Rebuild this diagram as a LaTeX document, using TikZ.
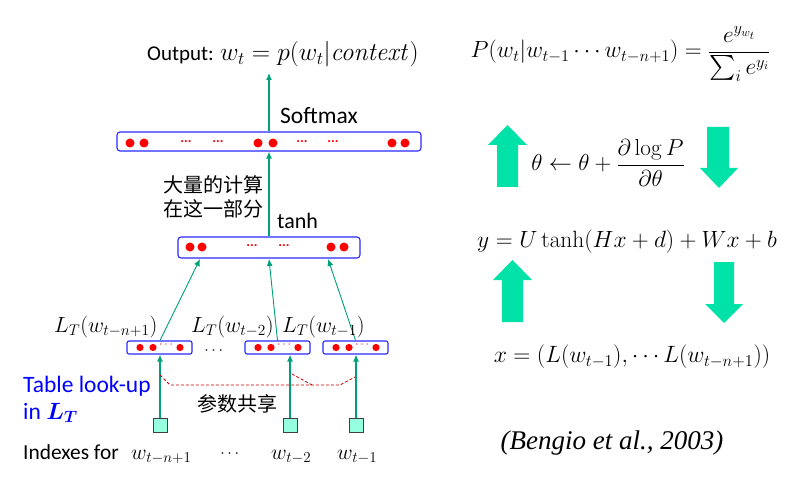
\RequirePackage{fix-cm}
\documentclass[tikz,border=0pt]{standalone}
\usepackage{amsmath}
\usepackage{bm}
\usepackage[no-math]{fontspec}
\setmainfont{Carlito}
\newfontfamily\cjk{Noto Sans CJK SC}
\newfontfamily\timesf{Liberation Serif}
\usetikzlibrary{arrows.meta}
\definecolor{boxblue}{RGB}{40,40,255}
\definecolor{teal1}{RGB}{0,160,122}
\definecolor{mint}{RGB}{0,226,168}
\definecolor{sqfill}{RGB}{150,255,224}
\definecolor{dred}{RGB}{200,0,0}
\tikzset{
  layer/.style={draw=boxblue, line width=1.1pt, rounded corners=3pt, inner sep=0pt},
  ebox/.style={draw=boxblue, line width=1.1pt, rounded corners=2pt, minimum width=65pt, minimum height=13pt, inner sep=0pt},
  idx/.style={draw=black!75, fill=sqfill, line width=0.8pt, minimum width=14pt, minimum height=14pt, inner sep=0pt},
  conn/.style={draw=teal1, line width=1.2pt, -{Latex[length=7pt,width=6pt]}},
  thin/.style={draw=teal1, line width=0.9pt, -{Latex[length=7pt,width=6pt]}},
  bigarrow/.style={fill=mint, draw=none},
  dot/.style={fill=red},
  rdots/.style={text=red, font=\fontsize{14}{14}\selectfont\bfseries, inner sep=0pt},
  lbl/.style={inner sep=0pt, anchor=base west},
}
\begin{document}
\begin{tikzpicture}[x=1pt,y=-1pt]
\useasboundingbox (0,0) rectangle (800,481);
\fill[white] (0,0) rectangle (800,481);

% ---- top output
\node[lbl] (out) at (147,61) {\fontsize{21}{24}\selectfont Output: \fontsize{25.5}{26}\selectfont$w_t = p(w_t|\mathit{context})$};
\coordinate (outbot) at (269,73);

% top layer
\node[layer, minimum width=304pt, minimum height=19pt] (top) at (269,141.5) {};
\foreach \x in {130,144,258,273,392,405} \fill[dot] (\x,143) circle (4.5);
\foreach \x in {186,218,302,333} \node[rdots] at (\x,142) {...};
\node[lbl] (soft) at (280,124) {\fontsize{23.5}{24}\selectfont Softmax};

% middle layer
\node[layer, minimum width=182pt, minimum height=21pt] (mid) at (269,247.5) {};
\foreach \x in {190,202,331,344} \fill[dot] (\x,247) circle (4.5);
\foreach \x in {252,284} \node[rdots] at (\x,246) {...};
\node[lbl] (tanh) at (277,228) {\fontsize{22}{24}\selectfont tanh};
\node[inner sep=0pt, anchor=east, align=left, font=\cjk\fontsize{20}{23.5}\selectfont] (cn) at (264,197) {大量的计算\\在这一部分};

\draw[conn] (mid.north) -- (top.south);
\draw[conn] (top.north) -- (outbot);

% embedding boxes
\node[ebox] (e1) at (159.5,347.5) {};
\node[ebox] (e2) at (277.5,347.5) {};
\node[ebox] (e3) at (355.5,347.5) {};
\foreach \b/\l in {e1/127,e2/245,e3/323}{
  \fill[dot] (\l+13,347.5) circle (3.6);
  \fill[dot] (\l+26,347.5) circle (3.6);
  \fill[dot] (\l+53,347.5) circle (3.6);
  \node[text=red, inner sep=0pt, font=\fontsize{12}{12}\selectfont] at (\l+40,345) {$\cdots$};
}
\node[inner sep=0pt, font=\fontsize{16}{16}\selectfont] (edots) at (215,351) {$\cdots$};

\coordinate (m1) at (200,259);
\coordinate (m2) at (269,259);
\coordinate (m3) at (328,259);
\draw[thin] (e1.north) ++(0.5,0) -- (m1);
\draw[thin] (e2.north) -- (m2);
\draw[thin] (e3.north) -- (m3);

% labels of embeddings
\node[lbl, font=\fontsize{22}{22}\selectfont] (l1) at (54,332) {$L_T(w_{t-n+1})$};
\node[lbl, font=\fontsize{22}{22}\selectfont] (l2) at (191,332) {$L_T(w_{t-2})$};
\node[lbl, font=\fontsize{22}{22}\selectfont] (l3) at (282,332) {$L_T(w_{t-1})$};

% index squares
\node[idx] (s1) at (160,425) {};
\node[idx] (s2) at (290,425) {};
\node[idx] (s3) at (356,425) {};
\draw[conn] (s1.north) -- (s1.north |- e1.south);
\draw[conn] (s2.north) -- (s2.north |- e2.south);
\draw[conn] (s3.north) -- (s3.north |- e3.south);

% shared parameters dashed
\coordinate (d1) at (160,375);
\coordinate (d2) at (170,385);
\coordinate (d3) at (340,385);
\coordinate (d4) at (355,377);
\coordinate (d5) at (292,374);
\coordinate (d6) at (312,385);
\draw[dred, dashed, dash pattern=on 3pt off 2pt, line width=0.8pt] (d1) -- (d2) -- (d3) -- (d4);
\draw[dred, dashed, dash pattern=on 3pt off 2pt, line width=0.8pt] (d5) -- (d6);
\node[inner sep=0pt] (share) at (237,404) {\cjk\fontsize{20}{20}\selectfont 参数共享};

% left labels
\node[lbl, text=blue] (tab) at (23,392) {\fontsize{23.5}{24}\selectfont Table look-up};
\node[lbl, text=blue] (inl) at (23,419) {\fontsize{23.5}{24}\selectfont in $\bm{L_T}$};
\node[lbl] (ixf) at (23,459) {\fontsize{21.4}{24}\selectfont Indexes for};
\node[lbl, font=\fontsize{21.5}{21}\selectfont] (w1) at (131,459) {$w_{t-n+1}$};
\node[inner sep=0pt, font=\fontsize{16}{16}\selectfont] (wd) at (231,454) {$\cdots$};
\node[lbl, font=\fontsize{21.5}{21}\selectfont] (w2) at (271,459) {$w_{t-2}$};
\node[lbl, font=\fontsize{21.5}{21}\selectfont] (w3) at (337,459) {$w_{t-1}$};

% ---- right side formulas
\node[inner sep=0pt, font=\fontsize{23.4}{22}\selectfont] (f1) at (620.5,54) {$P(w_t|w_{t-1}\cdots w_{t-n+1}) = \dfrac{e^{y_{w_t}}}{\sum_i e^{y_i}}$};
\node[inner sep=0pt, font=\fontsize{23.1}{22}\selectfont] (f2) at (608,163) {$\theta \leftarrow \theta + \dfrac{\partial \log P}{\partial\theta}$};
\node[inner sep=0pt, font=\fontsize{23.5}{22}\selectfont] (f3) at (627,242) {$y = U\tanh(Hx+d) + Wx + b$};
\node[inner sep=0pt, font=\fontsize{23.6}{22}\selectfont] (f4) at (632,357) {$x = (L(w_{t-1}),\cdots L(w_{t-n+1}))$};
\node[inner sep=0pt] (ref) at (612,443) {\timesf\itshape\fontsize{27}{27}\selectfont (Bengio et al., 2003)};

% big arrows
\fill[bigarrow] (497,187) -- (497,145) -- (488,145) -- (507.5,125) -- (527,145) -- (518,145) -- (518,187) -- cycle;
\fill[bigarrow] (707,127) -- (707,168) -- (700,168) -- (719,188) -- (738,168) -- (729,168) -- (729,127) -- cycle;
\fill[bigarrow] (502,322) -- (502,280) -- (493,280) -- (512.5,260) -- (532,280) -- (523,280) -- (523,322) -- cycle;
\fill[bigarrow] (714,262) -- (714,304) -- (705,304) -- (724,323) -- (743,304) -- (734,304) -- (734,262) -- cycle;
\end{tikzpicture}
\end{document}
